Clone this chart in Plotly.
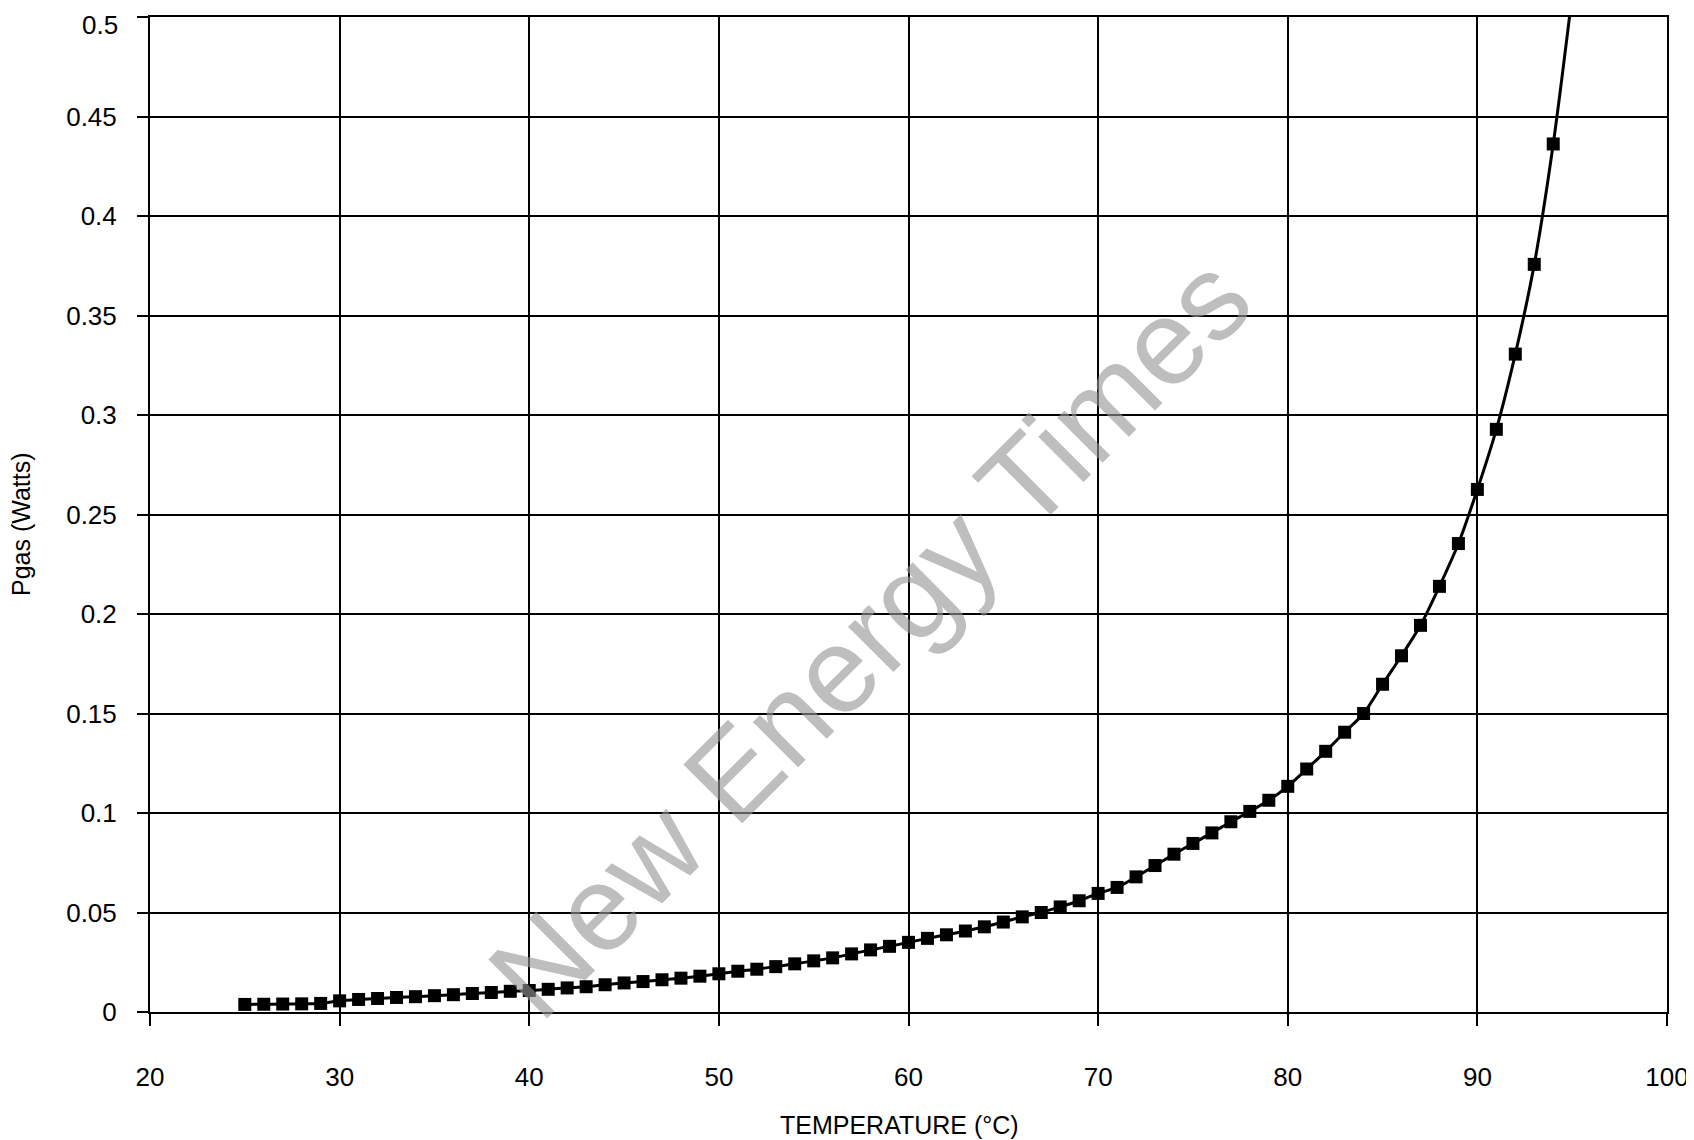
import plotly.graph_objects as go

# ---- data ----
temperature_c = list(range(25, 95))
pgas_watts = [
    0.0038, 0.0039, 0.0040, 0.0041, 0.0043,            # 25-29
    0.0056, 0.0063, 0.0068, 0.0073, 0.0077,            # 30-34
    0.0082, 0.0087, 0.0093, 0.0098, 0.0104,            # 35-39
    0.0108, 0.0114, 0.0121, 0.0127, 0.0137,            # 40-44
    0.0146, 0.0153, 0.0162, 0.0170, 0.0180,            # 45-49
    0.0192, 0.0205, 0.0215, 0.0228, 0.0242,            # 50-54
    0.0257, 0.0272, 0.0292, 0.0312, 0.0330,            # 55-59
    0.0350, 0.0370, 0.0388, 0.0407, 0.0428,            # 60-64
    0.0452, 0.0478, 0.0500, 0.0528, 0.0559,            # 65-69
    0.0596, 0.0626, 0.0679, 0.0736, 0.0793,            # 70-74
    0.0847, 0.0900, 0.0956, 0.1008, 0.1064,            # 75-79
    0.1134, 0.1221, 0.1310, 0.1406, 0.1500,            # 80-84
    0.1647, 0.1790, 0.1943, 0.2139, 0.2354,            # 85-89
    0.2626, 0.2928, 0.3306, 0.3757, 0.4362,            # 90-94
]
curve_end_temp = [95]
curve_end_pgas = [0.511]

x_tick_values = [20, 30, 40, 50, 60, 70, 80, 90, 100]
y_tick_values = [0, 0.05, 0.1, 0.15, 0.2, 0.25, 0.3, 0.35, 0.4, 0.45, 0.5]
y_tick_labels = ["0", "0.05", "0.1", "0.15", "0.2", "0.25", "0.3", "0.35", "0.4", "0.45", "0.5"]

x_title = "TEMPERATURE (°C)"
y_title = "Pgas (Watts)"
watermark = "New Energy Times"

FONT = "Liberation Sans, Arial, sans-serif"

fig = go.Figure()

fig.add_trace(go.Scatter(
    x=temperature_c + curve_end_temp,
    y=pgas_watts + curve_end_pgas,
    mode="lines",
    line=dict(color="black", width=3, shape="spline", smoothing=0.8),
    hoverinfo="skip",
))
fig.add_trace(go.Scatter(
    x=temperature_c,
    y=pgas_watts,
    mode="markers",
    marker=dict(symbol="square", size=13, color="black", line=dict(width=0)),
))

axis_common = dict(
    showgrid=True, gridcolor="black", gridwidth=2,
    showline=True, linecolor="black", linewidth=2, mirror=True,
    ticks="outside", tickcolor="black", tickwidth=2,
    tickfont=dict(family=FONT, size=26, color="black"),
    zeroline=False, automargin=False, ticklabeloverflow="allow",
)

# the top label sits a little below its gridline in the reference (kept inside the image),
# so it is drawn as an annotation instead of an axis tick label
axis_tick_text = y_tick_labels[:-1] + [""]

fig.update_xaxes(range=[20, 100], tickvals=x_tick_values, ticklen=12,
                 ticklabelstandoff=29, **axis_common)
fig.update_yaxes(range=[0, 0.5], tickvals=y_tick_values, ticktext=axis_tick_text,
                 ticklen=11, ticklabelstandoff=15, **axis_common)

# page body adds an 8px offset, so margins are shifted to compensate
fig.update_layout(
    width=1694, height=1140,
    margin=dict(l=142, r=35, t=9, b=136, pad=0),
    plot_bgcolor="white", paper_bgcolor="white",
    showlegend=False,
    font=dict(family=FONT, color="black"),
    annotations=[
        dict(text=y_tick_labels[-1], xref="paper", yref="y", x=0, y=y_tick_values[-1],
             xanchor="right", yanchor="middle", xshift=-30, yshift=-8, showarrow=False,
             font=dict(family=FONT, size=26, color="black")),
        dict(text=x_title, xref="paper", yref="paper", x=0.494, y=-0.1136,
             xanchor="center", yanchor="middle", showarrow=False,
             font=dict(family=FONT, size=25, color="black")),
        dict(text=y_title, xref="paper", yref="paper", x=-0.085, y=0.4905,
             xanchor="center", yanchor="middle", textangle=-90, showarrow=False,
             font=dict(family=FONT, size=25, color="black")),
        dict(text=watermark, xref="paper", yref="paper", x=0.474, y=0.377,
             xanchor="center", yanchor="middle", textangle=-45, showarrow=False,
             font=dict(family=FONT, size=121, color="rgba(150,150,150,0.62)")),
    ],
)

fig.write_html("out.html")
